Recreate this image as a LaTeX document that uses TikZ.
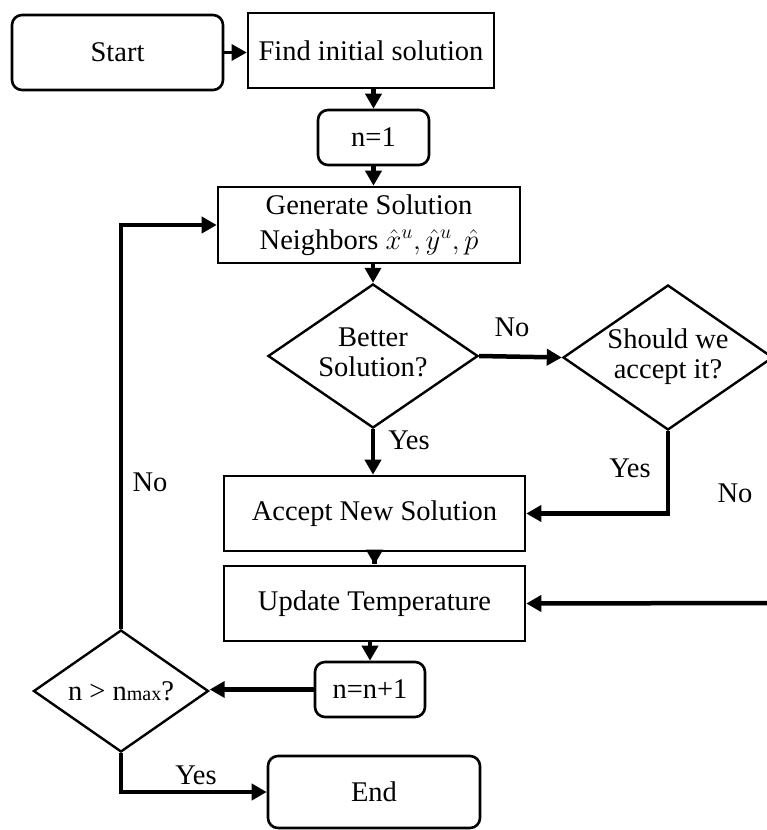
\documentclass[tikz,border=0pt]{standalone}
\usepackage{fix-cm}
\usepackage{fontspec}
\setmainfont{Liberation Serif}
\usetikzlibrary{arrows.meta,shapes.geometric}
\begin{document}
\begin{tikzpicture}[x=1pt,y=-1pt,
  every node/.style={font=\fontsize{28.5}{33}\selectfont},
  procbox/.style={draw, line width=2.6pt, inner sep=0pt, align=center},
  roundbox/.style={procbox, rounded corners=10pt},
  decbox/.style={draw, diamond, line width=2.4pt, inner sep=0pt},
  arr/.style={line width=4.5pt, -{Triangle[length=15pt,width=16pt]}},
  lbl/.style={inner sep=0pt}
]
\useasboundingbox (0,0) rectangle (767,830);
\node[roundbox, minimum width=211pt, minimum height=75pt] (start) at (117.5,52.5) {Start};
\node[procbox, minimum width=246pt, minimum height=75pt] (find) at (371,50.5) {Find initial solution};
\node[roundbox, minimum width=111pt, minimum height=55pt] (n1) at (373.5,137.5) {n=1};
\node[procbox, minimum width=302pt, minimum height=76pt, font=\fontsize{28.5}{35}\selectfont] (gen) at (369,225) {Generate Solution\\Neighbors $\hat{x}^u,\hat{y}^u,\hat{p}$};
\node[decbox, minimum width=210pt, minimum height=144pt] (better) at (373,356) {};
\node[align=center, font=\fontsize{28.5}{30}\selectfont] at (373,352) {Better\\Solution?};
\node[decbox, minimum width=210pt, minimum height=145pt] (should) at (668,357.5) {};
\node[align=center, font=\fontsize{28.5}{30}\selectfont] at (668,357) {Should we\\accept it?};
\node[procbox, minimum width=301pt, minimum height=75pt] (accept) at (374.5,513.5) {Accept New Solution};
\node[procbox, minimum width=301pt, minimum height=75pt] (update) at (374.5,603.5) {Update Temperature};
\node[roundbox, minimum width=110pt, minimum height=55pt] (n2) at (370,689.5) {n=n+1};
\node[decbox, minimum width=175pt, minimum height=122pt] (check) at (121,691) {};
\node at (121,691) {n > n{\fontsize{20}{22}\selectfont max}?};
\node[roundbox, minimum width=212pt, minimum height=72pt] (end) at (374,792) {End};
\coordinate (rightend) at (767,603);

\draw[arr, line width=3pt] (start.east) -- (start.east -| find.west);
\draw[arr] (n1.north |- find.south) -- (n1.north);
\draw[arr] (n1.south) -- (n1.south |- gen.north);
\draw[arr] (better.north |- gen.south) -- (better.north);
\draw[arr] (better.east) -- (should.west);
\draw[arr] (better.south) -- (better.south |- accept.north);
\draw[arr] (should.south) |- (accept.east);
\draw[arr] (rightend) -- (update.east);
\draw[arr] (update.north -| accept.south) ++(0,-1) -- (update.north);
\draw[arr] (n2.north |- update.south) -- (n2.north);
\draw[arr] (n2.west) -- (n2.west -| check.east);
\draw[arr] (check.north) |- (gen.west);
\draw[arr] (check.south) |- (end.west);

\node[lbl] at (512,327) {No};
\node[lbl] at (409,440) {Yes};
\node[lbl] at (630,468) {Yes};
\node[lbl] at (735,493) {No};
\node[lbl] at (150,482) {No};
\node[lbl] at (196,775) {Yes};
\end{tikzpicture}
\end{document}
